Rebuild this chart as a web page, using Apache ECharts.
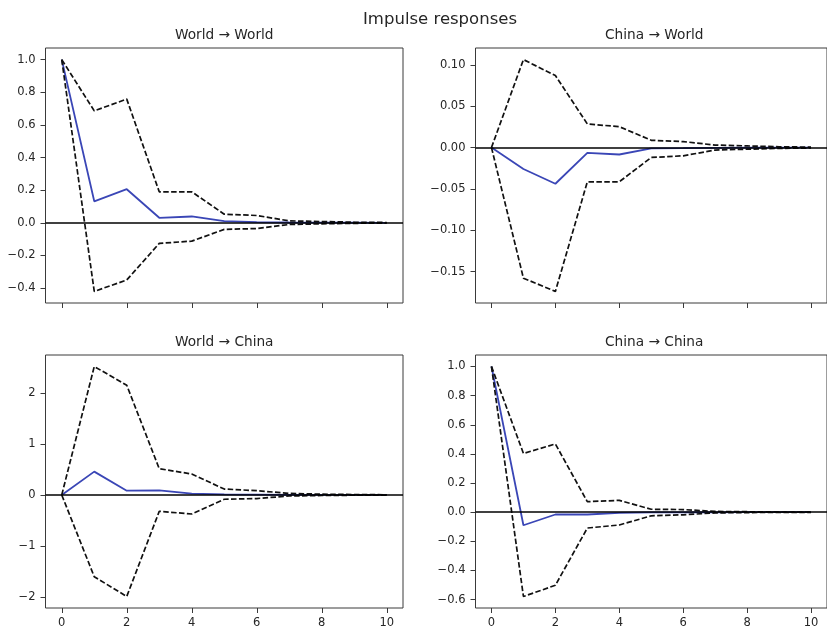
<!DOCTYPE html>
<html>
<head>
<meta charset="utf-8">
<script src="https://cdn.jsdelivr.net/npm/echarts@6/dist/echarts.min.js"></script>
<style>
html,body{margin:0;padding:0;background:#fff;}
#chart{width:827px;height:629px;}
</style>
</head>
<body>
<div id="chart"></div>
<script>
// ---- data ----
const steps = [0,1,2,3,4,5,6,7,8,9,10];
const xTicks = [0,2,4,6,8,10];
const suptitle = 'Impulse responses';
const panelTitles = ['World \u2192 World', 'China \u2192 World', 'World \u2192 China', 'China \u2192 China'];

const wwMean  = [1.0, 0.132, 0.206, 0.031, 0.039, 0.010, 0.005, 0.002, 0.001, 0.0005, 0.0002];
const wwUpper = [1.0, 0.686, 0.758, 0.190, 0.190, 0.053, 0.045, 0.012, 0.008, 0.004, 0.002];
const wwLower = [1.0, -0.420, -0.350, -0.126, -0.112, -0.040, -0.035, -0.010, -0.006, -0.003, -0.001];

const cwMean  = [0.0, -0.026, -0.0438, -0.0064, -0.0084, -0.001, -0.0008, -0.0003, -0.0002, -0.0001, 0.0];
const cwUpper = [0.0, 0.1064, 0.0871, 0.0285, 0.0253, 0.0088, 0.0072, 0.003, 0.002, 0.001, 0.0005];
const cwLower = [0.0, -0.158, -0.174, -0.0414, -0.0414, -0.012, -0.010, -0.003, -0.002, -0.001, -0.0005];

const wcMean  = [0.0, 0.457, 0.084, 0.090, 0.026, 0.010, 0.005, 0.002, 0.001, 0.0005, 0.0002];
const wcUpper = [0.0, 2.514, 2.148, 0.514, 0.410, 0.116, 0.084, 0.030, 0.015, 0.008, 0.004];
const wcLower = [0.0, -1.600, -1.987, -0.320, -0.373, -0.084, -0.070, -0.020, -0.010, -0.005, -0.002];

const ccMean  = [1.0, -0.090, -0.016, -0.016, -0.005, -0.002, -0.001, -0.0005, -0.0002, -0.0001, 0.0];
const ccUpper = [1.0, 0.403, 0.468, 0.072, 0.081, 0.020, 0.018, 0.005, 0.003, 0.001, 0.001];
const ccLower = [1.0, -0.579, -0.502, -0.109, -0.088, -0.025, -0.018, -0.005, -0.003, -0.001, -0.001];

const yTicksWW = [-0.4,-0.2,0.0,0.2,0.4,0.6,0.8,1.0];
const yTicksCW = [-0.15,-0.10,-0.05,0.00,0.05,0.10];
const yTicksWC = [-2,-1,0,1,2];
const yTicksCC = [-0.6,-0.4,-0.2,0.0,0.2,0.4,0.6,0.8,1.0];

// ---- build ----
const panels = [
  {title: panelTitles[0], mean: wwMean, upper: wwUpper, lower: wwLower, yTicks: yTicksWW, dec: 1},
  {title: panelTitles[1], mean: cwMean, upper: cwUpper, lower: cwLower, yTicks: yTicksCW, dec: 2},
  {title: panelTitles[2], mean: wcMean, upper: wcUpper, lower: wcLower, yTicks: yTicksWC, dec: 0},
  {title: panelTitles[3], mean: ccMean, upper: ccUpper, lower: ccLower, yTicks: yTicksCC, dec: 1}
];
const boxes = [
  {left: 45.5, top: 48, width: 357.5, height: 255},
  {left: 475.5, top: 48, width: 357.5, height: 255},
  {left: 45.5, top: 355, width: 357.5, height: 255.5},
  {left: 475.5, top: 355, width: 357.5, height: 255.5}
];
const FONT = '"DejaVu Sans", sans-serif';
const TXT = '#262626';
const SPINE = '#3a3a3a';

const grids = [], xAxes = [], yAxes = [], series = [];
const titles = [{
  text: suptitle, left: 440, top: 11, textAlign: 'center', padding: 0,
  textStyle: {fontFamily: FONT, fontSize: 16.5, fontWeight: 'normal', color: TXT}
}];

function pairs(arr){ return steps.map((s,i)=>[s, arr[i]]); }

panels.forEach((p, i) => {
  const b = boxes[i];
  grids.push({left: b.left, top: b.top, width: b.width, height: b.height,
    show: true, borderColor: SPINE, borderWidth: 1, backgroundColor: '#fff', containLabel: false});
  const all = p.upper.concat(p.lower, p.mean);
  const lo = Math.min(...all), hi = Math.max(...all);
  const pad = (hi - lo) * 0.05;
  const bottomRow = i >= 2;
  xAxes.push({
    type: 'value', gridIndex: i, min: -0.5, max: 10.5, position: 'bottom',
    splitLine: {show: false}, axisLine: {show: false, onZero: false},
    axisTick: {show: true, inside: false, length: 5, customValues: xTicks, lineStyle: {color: SPINE, width: 1}},
    axisLabel: {show: bottomRow, customValues: xTicks, margin: 9, fontFamily: FONT, fontSize: 11.5, color: TXT}
  });
  yAxes.push({
    type: 'value', gridIndex: i, min: lo - pad, max: hi + pad, position: 'left',
    splitLine: {show: false}, axisLine: {show: false, onZero: false},
    axisTick: {show: true, inside: false, length: 5, customValues: p.yTicks, lineStyle: {color: SPINE, width: 1}},
    axisLabel: {customValues: p.yTicks, margin: 10, fontFamily: FONT, fontSize: 11.5, color: TXT,
      formatter: v => v.toFixed(p.dec).replace('-', '\u2212').replace(/^\u22120(\.0+)?$/, m => m.slice(1))}
  });
  titles.push({
    text: p.title, left: b.left + b.width / 2, top: b.top - 20, textAlign: 'center', padding: 0,
    textStyle: {fontFamily: FONT, fontSize: 13.7, fontWeight: 'normal', color: TXT}
  });
  series.push({
    type: 'line', xAxisIndex: i, yAxisIndex: i, data: pairs(p.mean), showSymbol: false, symbol: 'none',
    lineStyle: {color: '#3a46b6', width: 1.8}, silent: true, z: 2,
    markLine: {silent: true, symbol: 'none', label: {show: false},
      lineStyle: {color: '#000', width: 1.5, type: 'solid'}, data: [{yAxis: 0}]}
  });
  [p.upper, p.lower].forEach(arr => series.push({
    type: 'line', xAxisIndex: i, yAxisIndex: i, data: pairs(arr), showSymbol: false, symbol: 'none',
    lineStyle: {color: '#111', width: 1.7, type: [5.5, 2.4]}, silent: true, z: 3
  }));
});

const chart = echarts.init(document.getElementById('chart'), null, {renderer: 'canvas'});
chart.setOption({
  animation: false,
  backgroundColor: '#fff',
  title: titles,
  grid: grids,
  xAxis: xAxes,
  yAxis: yAxes,
  series: series
});
</script>
</body>
</html>
